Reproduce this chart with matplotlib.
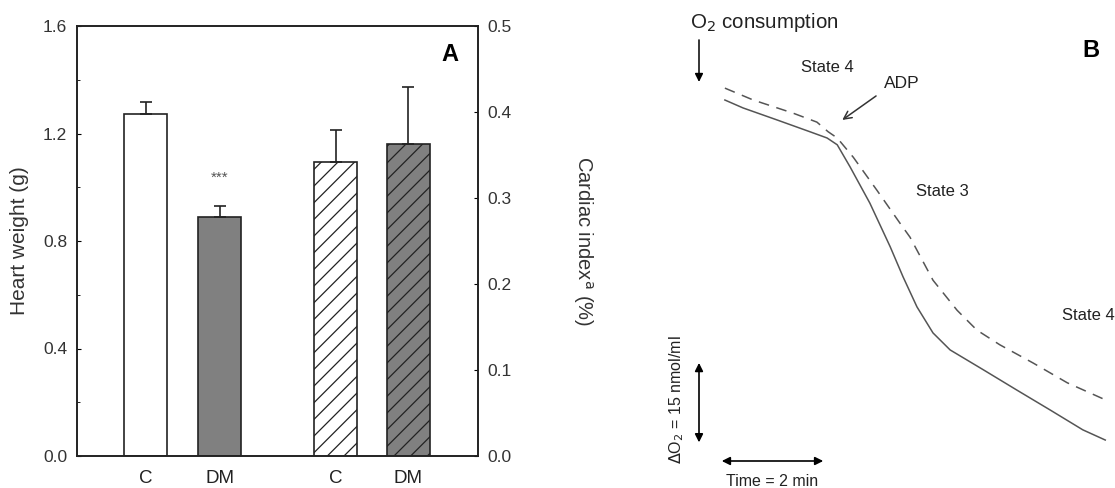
import matplotlib
matplotlib.use("Agg")
import matplotlib.pyplot as plt

plt.rcParams['font.family'] = ['Liberation Sans', 'DejaVu Sans']

# panel A data
groups = ['C', 'DM', 'C', 'DM']
heart_weight = [1.274, 0.890]
heart_weight_err = [0.044, 0.039]
cardiac_index = [0.3415, 0.3632]
cardiac_index_err = [0.037, 0.0655]

# panel B traces (time in min, O2 in nmol/ml)
t_solid = [0.11, 0.45, 1.08, 1.70, 2.02, 2.21, 2.45, 2.82, 3.20, 3.44, 3.70,
           4.00, 4.32, 4.94, 5.57, 6.19, 6.80, 7.22]
o2_solid = [63.7, 62.3, 60.2, 58.1, 57.0, 55.8, 51.9, 45.5, 37.8, 32.5, 27.2,
            22.6, 19.6, 16.1, 12.5, 9.0, 5.5, 3.7]
t_dash = [0.11, 0.64, 1.38, 1.83, 2.04, 2.21, 2.51, 2.95, 3.38, 3.57, 4.00,
          4.45, 4.82, 5.25, 5.87, 6.51, 7.22]
o2_dash = [65.8, 63.7, 61.4, 59.8, 58.1, 57.0, 53.6, 47.8, 42.0, 39.5, 31.9,
           26.6, 23.1, 20.5, 17.3, 13.8, 10.8]

W, H = 1115, 488
fig = plt.figure(figsize=(W / 100, H / 100), dpi=100)
plt.rcParams['hatch.linewidth'] = 0.9

# ---- panel A ----
ax = fig.add_axes([77 / W, 1 - 456 / H, 401 / W, 430 / H])
ax2 = ax.twinx()
xpos = [1, 2, 3.57, 4.55]
bw = 0.58
edge = '#222222'

ax.bar(xpos[0], heart_weight[0], bw, color='white', edgecolor=edge, lw=1.2)
ax.bar(xpos[1], heart_weight[1], bw, color='#808080', edgecolor=edge, lw=1.2)
ax.errorbar(xpos[:2], heart_weight, yerr=[[0, 0], heart_weight_err], fmt='none',
            ecolor=edge, elinewidth=1.2, capsize=4, capthick=1.2)

ax2.bar(xpos[2], cardiac_index[0], bw, color='white', edgecolor=edge, lw=1.2, hatch='//')
ax2.bar(xpos[3], cardiac_index[1], bw, color='#808080', edgecolor=edge, lw=1.2, hatch='//')
ax2.errorbar(xpos[2:], cardiac_index, yerr=[[0, 0], cardiac_index_err], fmt='none',
             ecolor=edge, elinewidth=1.2, capsize=4, capthick=1.2)

ax.set_xlim(0.07, 5.49)
ax.set_ylim(0, 1.6)
ax2.set_ylim(0, 0.5)
ax.set_yticks([0, 0.4, 0.8, 1.2, 1.6])
ax.set_yticks([0.2, 0.6, 1.0, 1.4], minor=True)
ax.set_yticklabels(['0.0', '0.4', '0.8', '1.2', '1.6'])
ax2.set_yticks([0, 0.1, 0.2, 0.3, 0.4, 0.5])
ax2.set_yticklabels(['0.0', '0.1', '0.2', '0.3', '0.4', '0.5'])
ax.set_xticks(xpos)
ax.set_xticklabels(groups)
ax.tick_params(axis='x', length=0, pad=10, labelsize=13.5, labelcolor='#222222')
ax.tick_params(axis='y', direction='in', length=3, pad=7, labelsize=12.5, labelcolor='#333333')
ax.tick_params(axis='y', which='minor', direction='in', length=2)
ax2.tick_params(axis='y', direction='in', length=3, pad=7, labelsize=12.5, labelcolor='#333333')
for a in (ax, ax2):
    for s in a.spines.values():
        s.set_linewidth(1.2)
        s.set_color('#222222')

ax.set_ylabel('Heart weight (g)', fontsize=15, color='#333333', labelpad=10)
ax2.set_ylabel('Cardiac index$^{\\mathrm{a}}$ (%)', fontsize=14.5, color='#333333',
               rotation=270, labelpad=60)
ax.text(xpos[1], 1.034, '***', ha='center', va='center', fontsize=11, color='#555555')
ax.text(0.93, 0.933, 'A', transform=ax.transAxes, ha='center', va='center',
        fontsize=17, fontweight='bold')

# ---- panel B ----
bx = fig.add_axes([660 / W, 0, 455 / W, 1])
bx.set_xlim(-1.103, 7.402)
bx.set_ylim(-4.765, 81.35)
bx.axis('off')
line_col = '#555555'
bx.plot(t_solid, o2_solid, color=line_col, lw=1.1, solid_joinstyle='round')
bx.plot(t_dash, o2_dash, color=line_col, lw=1.1, dashes=(7, 5))

bx.text(-0.542, 77.3, 'O$_2$ consumption', fontsize=14.8, ha='left', va='center', color='#222222')
bx.annotate('', xy=(-0.374, 66.4), xytext=(-0.374, 74.8),
            arrowprops=dict(arrowstyle='-|>', color='black', lw=1.1, mutation_scale=12))
bx.text(2.02, 69.4, 'State 4', fontsize=12, ha='center', va='center', color='#222222')
bx.text(3.42, 66.6, 'ADP', fontsize=12.5, ha='center', va='center', color='#222222')
bx.annotate('', xy=(2.262, 59.9), xytext=(2.978, 64.7),
            arrowprops=dict(arrowstyle='->', color='#333333', lw=1.1, mutation_scale=14))
bx.text(4.18, 47.5, 'State 3', fontsize=12, ha='center', va='center', color='#222222')
bx.text(6.90, 25.6, 'State 4', fontsize=12, ha='center', va='center', color='#222222',
        clip_on=False)
bx.text(6.95, 72.5, 'B', fontsize=17, fontweight='bold', ha='center', va='center')

# scale bars
bx.annotate('', xy=(-0.374, 2.8), xytext=(-0.374, 17.8),
            arrowprops=dict(arrowstyle='<|-|>', color='black', lw=1.2, mutation_scale=12))
bx.annotate('', xy=(0, 0), xytext=(2, 0),
            arrowprops=dict(arrowstyle='<|-|>', color='black', lw=1.2, mutation_scale=12))
bx.text(0.985, -3.65, 'Time = 2 min', fontsize=11.5, ha='center', va='center', color='#222222')
bx.text(-0.79, 10.76, '$\\Delta$O$_2$ = 15 nmol/ml', fontsize=11.5, rotation=90,
        ha='center', va='center', color='#222222')

fig.savefig('out.png', dpi=100)
